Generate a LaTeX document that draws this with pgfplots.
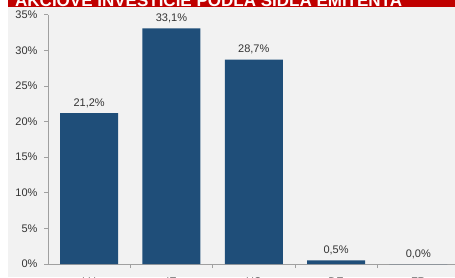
\documentclass[border=0pt]{standalone}
\usepackage{pgfplots}
\pgfplotsset{compat=1.18}
\usepackage{fontspec}
\setmainfont{Liberation Sans}
\definecolor{barc}{HTML}{1F4E79}
\definecolor{bg}{HTML}{F2F2F2}
\definecolor{banner}{HTML}{C00000}
\definecolor{axisgray}{HTML}{A0A0A0}
\definecolor{txt}{HTML}{333333}
\begin{document}
\begin{tikzpicture}[x=1pt,y=1pt]
\fill[white] (0,0) rectangle (8,277);
\fill[bg] (8,0) rectangle (455,270);
\fill[banner] (8,270) rectangle (455,295);
\node[anchor=base west, text=white, font=\bfseries\fontsize{17}{19}\selectfont, inner sep=0] at (15,271) {AKCIOVÉ INVESTÍCIE PODĽA SÍDLA EMITENTA};
\begin{axis}[
  at={(48pt,13pt)}, anchor=south west,
  x=82.3pt, y=7.12pt,
  xmin=-0.5, xmax=4.5, ymin=0, ymax=35,
  axis x line=bottom, axis y line=left,
  axis line style={draw=axisgray, line width=0.8pt, -},
  ybar, bar width=58pt,
  /pgf/number format/assume math mode=true,
  ytick={0,5,...,35},
  yticklabel={\pgfmathprintnumber{\tick}\%},
  yticklabel style={xshift=-3pt},
  tick align=outside, major tick length=4pt,
  tick style={draw=axisgray, line width=0.8pt},
  tick label style={font=\fontsize{11}{13}\selectfont, text=txt},
  xtick={0.5,1.5,2.5,3.5}, xticklabels={},
  extra x ticks={0,1,2,3,4},
  extra x tick labels={LU,IE,US,DE,FR},
  extra x tick style={major tick length=0pt, xticklabel style={yshift=-10pt}},
  nodes near coords={\pgfmathprintnumber[fixed,fixed zerofill,precision=1,use comma]{\pgfplotspointmeta}\%},
  nodes near coords style={font=\fontsize{11}{13}\selectfont, text=txt, yshift=2pt},
]
\addplot[fill=barc, draw=none] coordinates {(0,21.2) (1,33.1) (2,28.7) (3,0.5) (4,0.0)};
\end{axis}
\pgfresetboundingbox
\useasboundingbox (0,0) rectangle (455,277);
\end{tikzpicture}
\end{document}
